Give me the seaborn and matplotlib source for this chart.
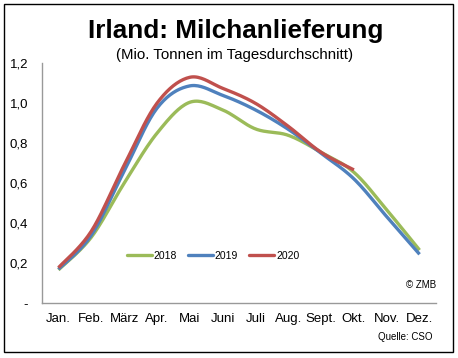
import matplotlib
matplotlib.use("Agg")
import matplotlib.pyplot as plt
from matplotlib.lines import Line2D
from matplotlib.patches import Rectangle
import numpy as np
import pandas as pd
import seaborn as sns

months = ["Jan.", "Feb.", "März", "Apr.", "Mai", "Juni", "Juli", "Aug.", "Sept.", "Okt.", "Nov.", "Dez."]
v2018 = [0.167, 0.33, 0.6, 0.85, 1.005, 0.967, 0.872, 0.84, 0.755, 0.655, 0.467, 0.266]
v2019 = [0.17, 0.34, 0.66, 0.975, 1.087, 1.04, 0.967, 0.87, 0.75, 0.622, 0.433, 0.245]
v2020 = [0.178, 0.36, 0.69, 1.0, 1.13, 1.075, 1.0, 0.885, 0.755, 0.667]
y_ticks = [0, 0.2, 0.4, 0.6, 0.8, 1.0, 1.2]
y_labels = ["-", "0,2", "0,4", "0,6", "0,8", "1,0", "1,2"]

colors = {"2018": "#9BBB59", "2019": "#4F81BD", "2020": "#C0504D"}


def smooth(vals, n=20):
    # Excel-like smoothed line (Catmull-Rom through the data points)
    y = np.asarray(vals, dtype=float)
    x = np.arange(len(y), dtype=float)
    px = np.concatenate([[x[0]], x, [x[-1]]])
    py = np.concatenate([[y[0]], y, [y[-1]]])
    xs, ys = [], []
    for i in range(1, len(px) - 2):
        t = np.linspace(0, 1, n, endpoint=False)
        for p, out in ((px, xs), (py, ys)):
            p0, p1, p2, p3 = p[i - 1], p[i], p[i + 1], p[i + 2]
            out.extend(0.5 * ((2 * p1) + (-p0 + p2) * t
                              + (2 * p0 - 5 * p1 + 4 * p2 - p3) * t ** 2
                              + (-p0 + 3 * p1 - 3 * p2 + p3) * t ** 3))
    xs.append(x[-1])
    ys.append(y[-1])
    return xs, ys


sns.set_style("white")
plt.rcParams["font.family"] = ["Liberation Sans", "DejaVu Sans"]
plt.rcParams["text.color"] = "black"
plt.rcParams["xtick.color"] = "black"
plt.rcParams["ytick.color"] = "black"

fig = plt.figure(figsize=(4.58, 3.58), dpi=100)
ax = fig.add_axes([42 / 458, 1 - 303.3 / 358, 394 / 458, 240 / 358])

for year, vals in (("2018", v2018), ("2019", v2019), ("2020", v2020)):
    xs, ys = smooth(vals)
    df = pd.DataFrame({"x": xs, "y": ys})
    sns.lineplot(data=df, x="x", y="y", ax=ax, color=colors[year], linewidth=2.4,
                 sort=False, estimator=None, solid_capstyle="butt")

ax.set_xlim(-0.5, 11.5)
ax.set_ylim(0, 1.2)
ax.set_xticks(range(len(months)))
ax.set_xticklabels(months, fontsize=9.5)
ax.set_xticks(np.arange(-0.5, 12, 1), minor=True)
ax.tick_params(axis="x", which="major", length=0, pad=7)
ax.tick_params(axis="x", which="minor", length=4, color="#999999", direction="out")
ax.set_yticks(y_ticks)
ax.set_yticklabels(y_labels, fontsize=9.5)
ax.tick_params(axis="y", length=4, color="#999999", direction="out", pad=6)
ax.set_xlabel("")
ax.set_ylabel("")
for side in ("top", "right"):
    ax.spines[side].set_visible(False)
for side in ("left", "bottom"):
    ax.spines[side].set_color("#999999")
    ax.spines[side].set_linewidth(1)

handles = [Line2D([], [], color=colors[y], linewidth=2.4) for y in colors]
ax.legend(handles, list(colors), loc="center", bbox_to_anchor=(213 / 458, 1 - 256 / 358),
          bbox_transform=fig.transFigure, ncol=3, frameon=False, fontsize=7.5,
          handlelength=2.4, handletextpad=0.15, columnspacing=1.1)

fig.text(236 / 458, 1 - 31 / 358, "Irland: Milchanlieferung", ha="center", va="center",
         fontsize=18.8, fontweight="bold")
fig.text(235 / 458, 1 - 55 / 358, "(Mio. Tonnen im Tagesdurchschnitt)", ha="center",
         va="center", fontsize=10.8)
fig.text(436 / 458, 1 - 285 / 358, "© ZMB", ha="right", va="center", fontsize=7)
fig.text(432 / 458, 1 - 337 / 358, "Quelle: CSO", ha="right", va="center", fontsize=7)

fig.patches.append(Rectangle((4 / 458, 1 - 352 / 358), 449 / 458, 348 / 358,
                             transform=fig.transFigure, fill=False,
                             edgecolor="black", linewidth=1))

fig.savefig("out.png", dpi=100)
